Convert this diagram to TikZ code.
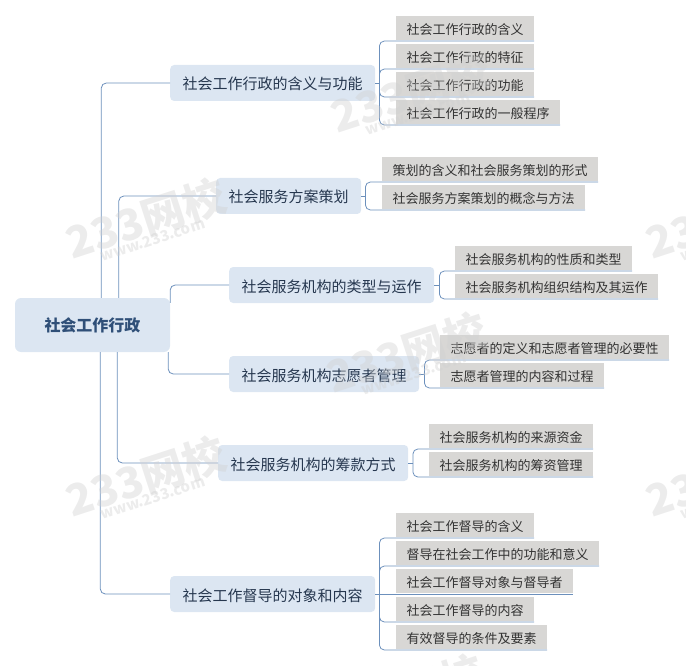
\documentclass[tikz,border=0pt]{standalone}
\usepackage{fontspec}
\setmainfont{Noto Sans CJK SC}
\definecolor{linkblue}{HTML}{6C90BC}
\definecolor{boxblue}{HTML}{DCE6F2}
\definecolor{leafgray}{HTML}{D8D7D5}
\definecolor{rootink}{HTML}{2F4F78}
\definecolor{branchink}{HTML}{26374F}
\definecolor{leafink}{HTML}{333333}
\definecolor{markgray}{HTML}{D0D0D0}
\tikzset{
  rootbox/.style={fill=boxblue,rounded corners=6pt,minimum width=155pt,minimum height=54pt,
    text=rootink,font=\fontsize{16}{18}\selectfont\bfseries},
  branchbox/.style={anchor=west,fill=boxblue,rounded corners=4pt,inner xsep=12.5pt,inner ysep=0pt,
    text height=14pt,text depth=0pt,minimum height=36pt,text=branchink,font=\fontsize{15}{17}\selectfont},
  leafbox/.style={anchor=west,fill=leafgray,inner xsep=10.5pt,inner ysep=0pt,outer sep=0pt,
    outer ysep=1pt,text height=12.5pt,text depth=0pt,minimum height=24pt,text=leafink,font=\fontsize{13}{15}\selectfont},
  link/.style={draw=linkblue,line width=0.8pt,rounded corners=5pt},
  wmark/.style={rotate=18,align=center,text=markgray,text opacity=0.4,font=\bfseries}
}
\begin{document}
\begin{tikzpicture}[x=1pt,y=-1pt]
\useasboundingbox (0,0) rectangle (686,666);
\clip (0,0) rectangle (686,666);
% centre
\node[rootbox] (root) at (92.5,325) {社会工作行政};
% first level
\node[branchbox] (meaning) at (170,83) {社会工作行政的含义与功能};
\node[branchbox] (plan) at (216,196) {社会服务方案策划};
\node[branchbox] (types) at (229,285) {社会服务机构的类型与运作};
\node[branchbox] (volunteer) at (229,374) {社会服务机构志愿者管理};
\node[branchbox] (funds) at (218,463) {社会服务机构的筹款方式};
\node[branchbox] (supervise) at (170,594) {社会工作督导的对象和内容};
% leaves
\node[leafbox] (meaninga) at (396,28) {社会工作行政的含义};
\node[leafbox] (meaningb) at (396,56) {社会工作行政的特征};
\node[leafbox] (meaningc) at (396,84) {社会工作行政的功能};
\node[leafbox] (meaningd) at (396,112) {社会工作行政的一般程序};
\node[leafbox] (plana) at (382,169) {策划的含义和社会服务策划的形式};
\node[leafbox] (planb) at (382,197) {社会服务方案策划的概念与方法};
\node[leafbox] (typesa) at (455,258) {社会服务机构的性质和类型};
\node[leafbox] (typesb) at (455,286) {社会服务机构组织结构及其运作};
\node[leafbox] (volunteera) at (440,347) {志愿者的定义和志愿者管理的必要性};
\node[leafbox] (volunteerb) at (440,375) {志愿者管理的内容和过程};
\node[leafbox] (fundsa) at (429,436) {社会服务机构的来源资金};
\node[leafbox] (fundsb) at (429,464) {社会服务机构的筹资管理};
\node[leafbox] (supervisea) at (396,525) {社会工作督导的含义};
\node[leafbox] (superviseb) at (396,553) {督导在社会工作中的功能和意义};
\node[leafbox] (supervisec) at (396,581) {社会工作督导对象与督导者};
\node[leafbox] (supervised) at (396,609) {社会工作督导的内容};
\node[leafbox] (supervisee) at (396,637) {有效督导的条件及要素};
% centre to first level
\draw[link] ([xshift=86.5pt]root.north west) |- (meaning.west);
\draw[link] ([xshift=104pt]root.north west) |- (plan.west);
\draw[link] ([yshift=-5pt]root.north east) |- (types.west);
\draw[link] ([xshift=-2pt]root.south east) |- (volunteer.west);
\draw[link] ([xshift=102.5pt]root.south west) |- (funds.west);
\draw[link] ([xshift=85.5pt]root.south west) |- (supervise.west);
% first level to leaves
\coordinate (forka) at ([xshift=4pt]meaning.east);
\draw[link] (meaning.east) -- (forka);
\draw[link] (forka) |- (meaninga.south east);
\draw[link] (forka) |- (meaningb.south east);
\draw[link] (forka) |- (meaningc.south east);
\draw[link] (forka) |- (meaningd.south east);
\coordinate (forkb) at ([xshift=4pt]plan.east);
\draw[link] (plan.east) -- (forkb);
\draw[link] (forkb) |- (plana.south east);
\draw[link] (forkb) |- (planb.south east);
\coordinate (forkc) at ([xshift=5pt]types.east);
\draw[link] (types.east) -- (forkc);
\draw[link] (forkc) |- (typesa.south east);
\draw[link] (forkc) |- (typesb.south east);
\coordinate (forkd) at ([xshift=5pt]volunteer.east);
\draw[link] (volunteer.east) -- (forkd);
\draw[link] (forkd) |- (volunteera.south east);
\draw[link] (forkd) |- (volunteerb.south east);
\coordinate (forke) at ([xshift=4.5pt]funds.east);
\draw[link] (funds.east) -- (forke);
\draw[link] (forke) |- (fundsa.south east);
\draw[link] (forke) |- (fundsb.south east);
\coordinate (forkf) at ([xshift=4pt]supervise.east);
\draw[link] (supervise.east) -- (forkf);
\draw[link] (forkf) |- (supervisea.south east);
\draw[link] (forkf) |- (superviseb.south east);
\draw[link] (forkf) -- (supervisec.south east);
\draw[link] (forkf) |- (supervised.south east);
\draw[link] (forkf) |- (supervisee.south east);
% watermark
\node[wmark] (marka) at (147,222) {\fontsize{43}{45}\selectfont 233网校\\[-5pt]\fontsize{15}{16}\selectfont www.233.com};
\node[wmark] (markb) at (147,480) {\fontsize{43}{45}\selectfont 233网校\\[-5pt]\fontsize{15}{16}\selectfont www.233.com};
\node[wmark] (markc) at (412,96) {\fontsize{43}{45}\selectfont 233网校\\[-5pt]\fontsize{15}{16}\selectfont www.233.com};
\node[wmark] (markd) at (408,356) {\fontsize{43}{45}\selectfont 233网校\\[-5pt]\fontsize{15}{16}\selectfont www.233.com};
\node[wmark] (marke) at (405,698) {\fontsize{43}{45}\selectfont 233网校\\[-5pt]\fontsize{15}{16}\selectfont www.233.com};
\node[wmark] (markf) at (727,222) {\fontsize{43}{45}\selectfont 233网校\\[-5pt]\fontsize{15}{16}\selectfont www.233.com};
\node[wmark] (markg) at (727,480) {\fontsize{43}{45}\selectfont 233网校\\[-5pt]\fontsize{15}{16}\selectfont www.233.com};
\end{tikzpicture}
\end{document}
